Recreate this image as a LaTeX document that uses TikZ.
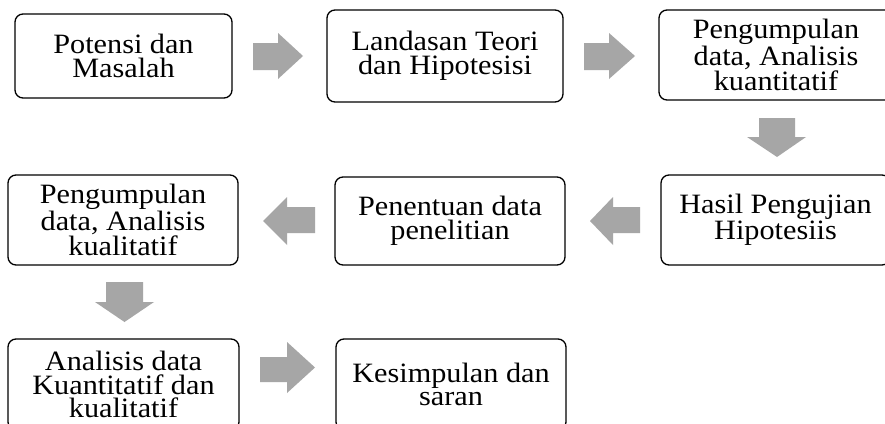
\documentclass[tikz,border=0pt]{standalone}
\usepackage{fontspec}
\setmainfont[FakeStretch=1.08]{Liberation Serif}
\definecolor{arrowgray}{RGB}{166,166,166}
\tikzset{
  box/.style={draw=black, line width=1.3pt, rounded corners=8pt, align=center,
    inner sep=0pt, font=\fontsize{28}{23.8}\selectfont},
  blockarrow/.style={fill=arrowgray, draw=none}
}
\begin{document}
\begin{tikzpicture}[x=1pt,y=-1pt]
\useasboundingbox (0,0) rectangle (885,423);
\clip (0,0) rectangle (885,423);
\fill[white] (0,0) rectangle (885,423);
% boxes
\node[box, minimum width=217pt, minimum height=84pt] (b1) at (123.5,56) {Potensi dan\\Masalah};
\node[box, minimum width=236pt, minimum height=92pt] (b2) at (445,56) {Landasan Teori\\dan Hipotesisi};
\node[box, minimum width=234pt, minimum height=90pt] (b3) at (776,55) {Pengumpulan\\data, Analisis\\kuantitatif};
\node[box, minimum width=229pt, minimum height=90pt] (b6) at (775.5,220) {Hasil Pengujian\\Hipotesiis};
\node[box, minimum width=230pt, minimum height=88pt] (b5) at (450,221) {Penentuan data\\penelitian};
\node[box, minimum width=230pt, minimum height=90pt] (b4) at (123,220) {Pengumpulan\\data, Analisis\\kualitatif};
\node[box, minimum width=231pt, minimum height=91pt] (b7) at (123.5,384.5) {Analisis data\\Kuantitatif dan\\kualitatif};
\node[box, minimum width=230pt, minimum height=91pt] (b8) at (451,384.5) {Kesimpulan dan\\saran};
% block arrows
\fill[blockarrow] (253,43) -- (278,43) -- (278,33) -- (303,56) -- (278,79) -- (278,70) -- (253,70) -- cycle;
\fill[blockarrow] (584,43) -- (609,43) -- (609,33) -- (635,56) -- (609,79) -- (609,70) -- (584,70) -- cycle;
\fill[blockarrow] (759,118) -- (795,118) -- (795,137) -- (806,137) -- (777,157) -- (747,137) -- (759,137) -- cycle;
\fill[blockarrow] (640,207) -- (613,207) -- (613,197) -- (590,221) -- (613,245) -- (613,233) -- (640,233) -- cycle;
\fill[blockarrow] (315,207) -- (287,207) -- (287,197) -- (263,221) -- (287,245) -- (287,233) -- (315,233) -- cycle;
\fill[blockarrow] (106,282) -- (143,282) -- (143,302) -- (154,302) -- (124.5,322) -- (95,302) -- (106,302) -- cycle;
\fill[blockarrow] (260,357) -- (287,357) -- (287,342) -- (315,367.5) -- (287,393) -- (287,382) -- (260,382) -- cycle;
\end{tikzpicture}
\end{document}
